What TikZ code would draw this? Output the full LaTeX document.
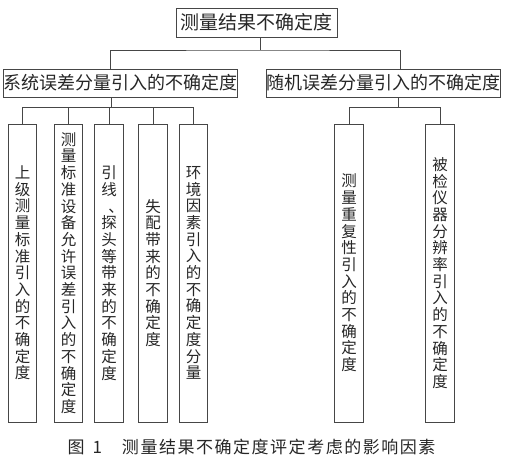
\documentclass[tikz,border=0pt]{standalone}
\usepackage{fontspec}
\newfontfamily\cjk{Noto Sans CJK SC}
\newfontfamily\cjkcap[LetterSpace=9]{Noto Sans CJK SC}
\definecolor{treegray}{RGB}{70,70,70}

\tikzset{
  box/.style={draw=treegray, line width=0.9pt, inner sep=0pt, text=black!85,
    font=\cjk\fontsize{18}{18}\selectfont},
  leaf/.style={draw=treegray, line width=0.9pt, inner sep=0pt, text=black!85,
    minimum width=28.5pt, minimum height=298pt, align=center,
    font=\cjk\fontsize{15.5}{16.7}\selectfont},
  link/.style={treegray, line width=0.9pt}
}

\begin{document}
\begin{tikzpicture}[x=1pt, y=-1pt]
    \useasboundingbox (0,0) rectangle (505,465);

    % root and the two branches
    \node[box, minimum width=161pt, minimum height=29pt,
          font=\cjk\fontsize{19}{19}\selectfont] (top) at (256.5,22.5) {测量结果不确定度};
    \node[box, minimum width=231pt, minimum height=28pt] (sys) at (120.5,83) {系统误差分量引入的不确定度};
    \node[box, minimum width=231pt, minimum height=28pt] (rnd) at (383.5,83) {随机误差分量引入的不确定度};

    % systematic leaves
    \node[leaf] (a1) at (22.5,273) {上\\级\\测\\量\\标\\准\\引\\入\\的\\不\\确\\定\\度};
    \node[leaf] (a2) at (68.5,273) {测\\量\\标\\准\\设\\备\\允\\许\\误\\差\\引\\入\\的\\不\\确\\定\\度};
    \node[leaf] (a3) at (109,273) {引\\线\\\makebox[15.5pt][l]{\hspace{7pt}、}\\探\\头\\等\\带\\来\\的\\不\\确\\定\\度};
    \node[leaf] (a4) at (153,273) {失\\配\\带\\来\\的\\不\\确\\定\\度};
    \node[leaf] (a5) at (193.5,273) {环\\境\\因\\素\\引\\入\\的\\不\\确\\定\\度\\分\\量};

    % random leaves
    \node[leaf] (b1) at (349,273) {测\\量\\重\\复\\性\\引\\入\\的\\不\\确\\定\\度};
    \node[leaf] (b2) at (440,273) {被\\检\\仪\\器\\分\\辨\\率\\引\\入\\的\\不\\确\\定\\度};

    % connectors
    \coordinate (t1) at (260,50);
    \coordinate (s1) at (111,107);
    \coordinate (r1) at (398,107);
    \draw[link] (top.south -| t1) -- (t1);
    \draw[link] ([xshift=-10pt]sys.north) |- (t1) -| ([xshift=17pt]rnd.north);
    \draw[link] (sys.south -| s1) -- (s1);
    \foreach \i in {1,...,5}
        \draw[link] (a\i.north) |- (s1);
    \draw[link] (rnd.south -| r1) -- (r1);
    \foreach \i in {1,2}
        \draw[link] (b\i.north) |- (r1);

    % caption
    \node[text=black!85, font=\cjkcap\fontsize{17}{17}\selectfont] (cap) at (251.5,447)
        {图\hspace{8pt}1\hspace{20pt}测量结果不确定度评定考虑的影响因素};
\end{tikzpicture}
\end{document}
